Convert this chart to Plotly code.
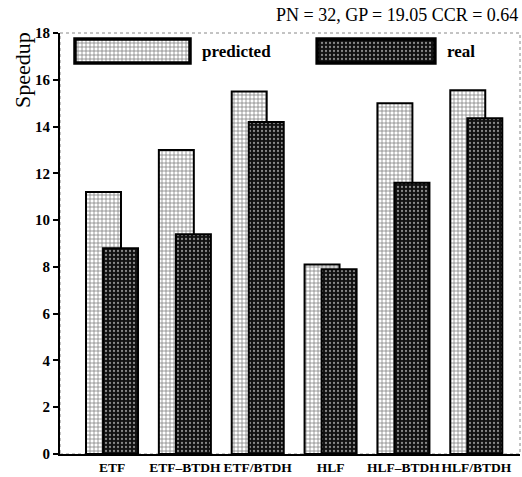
import plotly.graph_objects as go

categories = ["ETF", "ETF–BTDH", "ETF/BTDH", "HLF", "HLF–BTDH", "HLF/BTDH"]
predicted = [11.2, 13.0, 15.5, 8.1, 15.0, 15.55]
real = [8.8, 9.4, 14.2, 7.9, 11.6, 14.35]
y_ticks = [0, 2, 4, 6, 8, 10, 12, 14, 16, 18]

idx = list(range(len(categories)))
off = 0.117
bw = 0.48
serif = "Liberation Serif"

pred_pattern = dict(shape="+", fgcolor="black", bgcolor="white", size=4, solidity=0.35)
real_pattern = dict(shape=".", fgcolor="white", bgcolor="#111111", size=4, solidity=0.25)

fig = go.Figure()
fig.add_trace(go.Bar(x=[i - off for i in idx], y=predicted, width=bw,
                     marker=dict(color="white", line=dict(color="black", width=2), pattern=pred_pattern),
                     showlegend=False))
fig.add_trace(go.Bar(x=[i + off for i in idx], y=real, width=bw,
                     marker=dict(color="#111111", line=dict(color="black", width=2), pattern=real_pattern),
                     showlegend=False))

# legend swatches drawn on an overlay axis
fig.add_trace(go.Bar(x=[0.25], y=[0.957], base=[0.0326], width=0.057, orientation="h",
                     xaxis="x2", yaxis="y2", showlegend=False, hoverinfo="skip",
                     marker=dict(color="white", line=dict(color="black", width=3.5), pattern=pred_pattern)))
fig.add_trace(go.Bar(x=[0.256], y=[0.957], base=[0.559], width=0.057, orientation="h",
                     xaxis="x2", yaxis="y2", showlegend=False, hoverinfo="skip",
                     marker=dict(color="#111111", line=dict(color="black", width=3.5), pattern=real_pattern)))

fig.update_layout(
    width=522, height=477,
    margin=dict(l=60, r=2, t=33, b=23),
    paper_bgcolor="white", plot_bgcolor="white",
    barmode="overlay",
    font=dict(family=serif, color="black"),
    xaxis=dict(range=[-0.714, 5.6], tickvals=idx, ticktext=categories, showgrid=False,
               zeroline=False, showline=True, linecolor="black", linewidth=2, ticks="",
               tickangle=0, automargin=False,
               tickfont=dict(family=serif, size=13.5, weight="bold"), fixedrange=True),
    yaxis=dict(range=[0, 18], tickvals=y_ticks, showgrid=False, zeroline=False,
               showline=True, linecolor="black", linewidth=2, ticks="outside", ticklen=5,
               tickwidth=2, tickcolor="black", automargin=False,
               tickfont=dict(family=serif, size=15, weight="bold")),
    xaxis2=dict(overlaying="x", anchor="y2", range=[0, 1], visible=False),
    yaxis2=dict(overlaying="y", anchor="x2", range=[0, 1], visible=False),
    shapes=[dict(type="rect", xref="paper", yref="paper", x0=0, x1=1, y0=0, y1=1,
                 line=dict(color="#888888", width=1, dash="dot"), layer="below")],
    annotations=[
        dict(text="PN = 32, GP = 19.05 CCR = 0.64", xref="paper", yref="paper",
             x=1.0, y=1.0, xanchor="right", yanchor="bottom", yshift=6, showarrow=False,
             font=dict(family=serif, size=18)),
        dict(text="Speedup", xref="paper", yref="paper", x=0, xshift=-38, y=0.912,
             xanchor="center", yanchor="middle", textangle=-90, showarrow=False,
             font=dict(family=serif, size=22)),
        dict(text="predicted", xref="paper", yref="paper", x=0.304, y=0.957,
             xanchor="left", yanchor="middle", showarrow=False,
             font=dict(family=serif, size=17, weight="bold")),
        dict(text="real", xref="paper", yref="paper", x=0.837, y=0.957,
             xanchor="left", yanchor="middle", showarrow=False,
             font=dict(family=serif, size=17, weight="bold")),
    ],
)

fig.write_html("out.html")
